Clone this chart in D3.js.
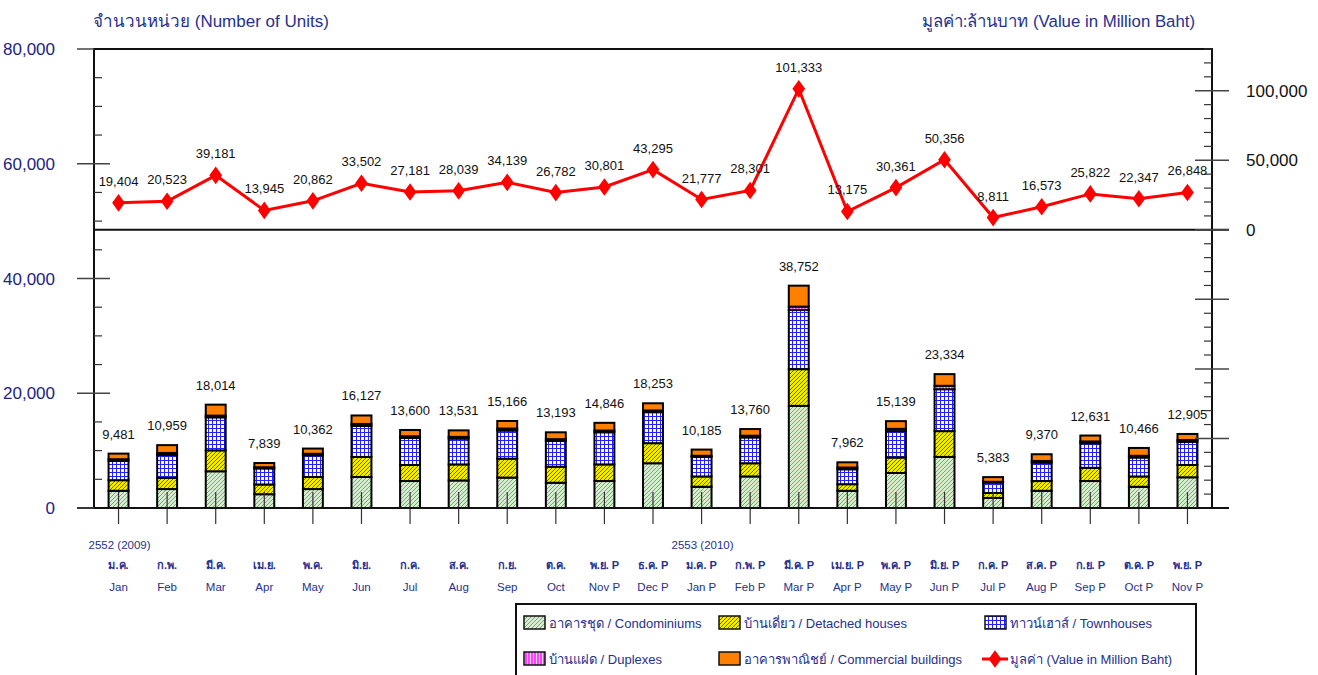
<!DOCTYPE html>
<html>
<head>
<meta charset="utf-8">
<script src="https://cdn.jsdelivr.net/npm/d3@7"></script>
<style>
  body { margin: 0; background: #fff; }
  svg { display: block; font-family: "Liberation Sans", Arial, sans-serif; }
</style>
</head>
<body>
<div id="chart"></div>
<script>
// month labels (Thai / English)
const monthsThai = ['ม.ค.', 'ก.พ.', 'มี.ค.', 'เม.ย.', 'พ.ค.', 'มิ.ย.', 'ก.ค.', 'ส.ค.', 'ก.ย.', 'ต.ค.', 'พ.ย. P', 'ธ.ค. P',
  'ม.ค. P', 'ก.พ. P', 'มี.ค. P', 'เม.ย. P', 'พ.ค. P', 'มิ.ย. P', 'ก.ค. P', 'ส.ค. P', 'ก.ย. P', 'ต.ค. P', 'พ.ย. P'];
const monthsEng = ['Jan', 'Feb', 'Mar', 'Apr', 'May', 'Jun', 'Jul', 'Aug', 'Sep', 'Oct', 'Nov P', 'Dec P',
  'Jan P', 'Feb P', 'Mar P', 'Apr P', 'May P', 'Jun P', 'Jul P', 'Aug P', 'Sep P', 'Oct P', 'Nov P'];
const yearLabels = [{ at: 0, text: '2552 (2009)' }, { at: 12, text: '2553 (2010)' }];

// units by type (stacked bars)
const condo      = [3000, 3300, 6400, 2400, 3300, 5400, 4700, 4800, 5300, 4400, 4700, 7800, 3700, 5500, 17800, 3000, 6100, 8900, 1750, 3000, 4700, 3700, 5350];
const detached   = [1850, 1950, 3650, 1700, 2100, 3500, 2800, 2800, 3300, 2800, 2900, 3500, 1800, 2300, 6400, 1150, 2700, 4500, 870, 1700, 2300, 1800, 2150];
const townhouse  = [3350, 4000, 5750, 2800, 3800, 5400, 4700, 4500, 4900, 4500, 5600, 5400, 3400, 4500, 10300, 2600, 4600, 7300, 1800, 3200, 4300, 3300, 4050];
const duplex     = [300, 350, 300, 200, 250, 350, 300, 300, 350, 300, 300, 300, 200, 300, 600, 300, 400, 600, 150, 300, 300, 300, 300];
const commercial = [981, 1359, 1914, 739, 912, 1477, 1100, 1131, 1316, 1193, 1346, 1253, 1085, 1160, 3652, 912, 1339, 2034, 813, 1170, 1031, 1366, 1055];
const totalUnits = [9481, 10959, 18014, 7839, 10362, 16127, 13600, 13531, 15166, 13193, 14846, 18253, 10185, 13760, 38752, 7962, 15139, 23334, 5383, 9370, 12631, 10466, 12905];

// value in million baht (line)
const valueMB = [19404, 20523, 39181, 13945, 20862, 33502, 27181, 28039, 34139, 26782, 30801, 43295, 21777, 28301, 101333, 13175, 30361, 50356, 8811, 16573, 25822, 22347, 26848];

const leftTicks = [0, 20000, 40000, 60000, 80000];
const rightLabelTicks = [0, 50000, 100000];

const seriesKeys = ['condo', 'detached', 'townhouse', 'duplex', 'commercial'];
const seriesData = { condo, detached, townhouse, duplex, commercial };

const navy = '#26308f';
const W = 1318, H = 675;
const plot = { left: 94, right: 1212, top: 49, bottom: 508 };

const svg = d3.select('#chart').append('svg').attr('width', W).attr('height', H);

// patterns
const defs = svg.append('defs');
function addPattern(id, w, h, bg, draw) {
  const p = defs.append('pattern').attr('id', id).attr('patternUnits', 'userSpaceOnUse')
    .attr('width', w).attr('height', h);
  p.append('rect').attr('width', w).attr('height', h).attr('fill', bg);
  draw(p);
}
addPattern('pat-condo', 4, 4, '#d6eecf', p => {
  p.append('path').attr('d', 'M0,4 L4,0 M-1,1 L1,-1 M3,5 L5,3').attr('stroke', '#5aa85a').attr('stroke-width', 0.9);
});
addPattern('pat-detached', 4, 4, '#f2ea00', p => {
  p.append('path').attr('d', 'M0,4 L4,0 M-1,1 L1,-1 M3,5 L5,3').attr('stroke', '#5c5a00').attr('stroke-width', 0.9);
});
addPattern('pat-townhouse', 4, 4, '#ffffff', p => {
  p.append('path').attr('d', 'M0,0.5 H4 M0.5,0 V4').attr('stroke', '#1f1fff').attr('stroke-width', 1);
});
addPattern('pat-duplex', 3, 3, '#ffd6ff', p => {
  p.append('path').attr('d', 'M1,0 V3').attr('stroke', '#ff00ff').attr('stroke-width', 1.4);
});
const fills = {
  condo: 'url(#pat-condo)',
  detached: 'url(#pat-detached)',
  townhouse: 'url(#pat-townhouse)',
  duplex: 'url(#pat-duplex)',
  commercial: '#ff7f00'
};

// scales
const x = d3.scaleBand().domain(d3.range(monthsEng.length)).range([plot.left, plot.right]).paddingInner(0.59).paddingOuter(0.3);
const cx = i => x(i) + x.bandwidth() / 2;
const yL = d3.scaleLinear().domain([0, 80000]).range([plot.bottom, plot.top]);
const yR = d3.scaleLinear().domain([-200000, 130000]).range([plot.bottom, plot.top]);

// stacked bars
const rows = totalUnits.map((t, i) => {
  const r = { i };
  seriesKeys.forEach(k => { r[k] = seriesData[k][i]; });
  return r;
});
const stacked = d3.stack().keys(seriesKeys)(rows);

const barG = svg.append('g');
stacked.forEach(layer => {
  barG.selectAll(null).data(layer).enter().append('rect')
    .attr('x', d => x(d.data.i))
    .attr('width', x.bandwidth())
    .attr('y', d => yL(d[1]))
    .attr('height', d => yL(d[0]) - yL(d[1]))
    .attr('fill', fills[layer.key])
    .attr('stroke', '#000')
    .attr('stroke-width', 2);
});

// category ticks through the bars
svg.append('g').selectAll('line').data(monthsEng).enter().append('line')
  .attr('x1', (d, i) => cx(i)).attr('x2', (d, i) => cx(i))
  .attr('y1', plot.bottom - 16).attr('y2', plot.bottom + 16)
  .attr('stroke', '#333').attr('stroke-width', 1.2);

// bar total labels
svg.append('g').selectAll('text').data(totalUnits).enter().append('text')
  .attr('x', (d, i) => cx(i))
  .attr('y', d => yL(d) - 15)
  .attr('text-anchor', 'middle')
  .attr('font-size', 13)
  .attr('fill', '#111')
  .text(d => d3.format(',')(d));

// frame
svg.append('rect')
  .attr('x', plot.left).attr('y', plot.top)
  .attr('width', plot.right - plot.left).attr('height', plot.bottom - plot.top)
  .attr('fill', 'none').attr('stroke', '#111').attr('stroke-width', 2);

// separator at right-axis zero
svg.append('line')
  .attr('x1', plot.left).attr('x2', plot.right + 17)
  .attr('y1', yR(0)).attr('y2', yR(0))
  .attr('stroke', '#111').attr('stroke-width', 2);

// bottom axis line extending beyond frame
svg.append('line')
  .attr('x1', plot.left - 17).attr('x2', plot.right + 17)
  .attr('y1', plot.bottom).attr('y2', plot.bottom)
  .attr('stroke', '#111').attr('stroke-width', 2);

// left axis ticks
const leftMinor = d3.range(0, 80001, 5000).filter(v => v % 20000 !== 0);
svg.append('g').selectAll('line').data(leftMinor).enter().append('line')
  .attr('x1', plot.left).attr('x2', plot.left + 8)
  .attr('y1', d => yL(d)).attr('y2', d => yL(d))
  .attr('stroke', '#333').attr('stroke-width', 1.2);
svg.append('g').selectAll('line').data(leftTicks).enter().append('line')
  .attr('x1', plot.left - 17).attr('x2', d => (d === 0 || d === 80000) ? plot.left : plot.left + 16)
  .attr('y1', d => yL(d)).attr('y2', d => yL(d))
  .attr('stroke', '#444').attr('stroke-width', 1.5);
svg.append('g').selectAll('text').data(leftTicks).enter().append('text')
  .attr('x', 55).attr('y', d => yL(d) + 6)
  .attr('text-anchor', 'end')
  .attr('font-size', 17)
  .attr('fill', '#1c2288')
  .text(d => d3.format(',')(d));

// right axis ticks
const rightMinor = d3.range(-200000, 130001, 10000).filter(v => v % 50000 !== 0);
const rightMajor = d3.range(-150000, 130001, 50000);
svg.append('g').selectAll('line').data(rightMinor).enter().append('line')
  .attr('x1', plot.right - 8).attr('x2', plot.right)
  .attr('y1', d => yR(d)).attr('y2', d => yR(d))
  .attr('stroke', '#333').attr('stroke-width', 1.2);
svg.append('g').selectAll('line').data(rightMajor).enter().append('line')
  .attr('x1', plot.right - 17).attr('x2', plot.right + 17)
  .attr('y1', d => yR(d)).attr('y2', d => yR(d))
  .attr('stroke', '#444').attr('stroke-width', 1.5);
svg.append('g').selectAll('text').data(rightLabelTicks).enter().append('text')
  .attr('x', 1246).attr('y', d => yR(d) + 6)
  .attr('font-size', 17)
  .attr('fill', '#111')
  .text(d => d3.format(',')(d));

// value line
const line = d3.line().x((d, i) => cx(i)).y(d => yR(d));
svg.append('path').datum(valueMB)
  .attr('d', line).attr('fill', 'none')
  .attr('stroke', '#ff0000').attr('stroke-width', 3);
const diamond = d3.symbol().type(d3.symbolDiamond).size(90);
svg.append('g').selectAll('path').data(valueMB).enter().append('path')
  .attr('d', diamond)
  .attr('transform', (d, i) => `translate(${cx(i)},${yR(d)}) scale(1.25,1)`)
  .attr('fill', '#ff0000');
svg.append('g').selectAll('text').data(valueMB).enter().append('text')
  .attr('x', (d, i) => cx(i))
  .attr('y', d => yR(d) - 17)
  .attr('text-anchor', 'middle')
  .attr('font-size', 13)
  .attr('fill', '#111')
  .text(d => d3.format(',')(d));

// titles
svg.append('text').attr('x', 93).attr('y', 27).attr('font-size', 17).attr('fill', navy)
  .text('จำนวนหน่วย (Number of Units)');
svg.append('text').attr('x', 1195).attr('y', 27).attr('font-size', 16.8).attr('fill', navy)
  .attr('text-anchor', 'end')
  .text('มูลค่า:ล้านบาท (Value in Million Baht)');

// month / year labels
svg.append('g').selectAll('text').data(yearLabels).enter().append('text')
  .attr('x', d => cx(d.at) - 30).attr('y', 549)
  .attr('font-size', 11.5).attr('fill', navy)
  .text(d => d.text);
svg.append('g').selectAll('text').data(monthsThai).enter().append('text')
  .attr('x', (d, i) => cx(i)).attr('y', 569)
  .attr('text-anchor', 'middle')
  .attr('font-size', 11).attr('font-weight', 'bold').attr('fill', navy)
  .text(d => d);
svg.append('g').selectAll('text').data(monthsEng).enter().append('text')
  .attr('x', (d, i) => cx(i)).attr('y', 591)
  .attr('text-anchor', 'middle')
  .attr('font-size', 11.5).attr('fill', navy)
  .text(d => d);

// legend
const legend = svg.append('g');
legend.append('rect').attr('x', 516).attr('y', 604).attr('width', 680).attr('height', 90)
  .attr('fill', '#fff').attr('stroke', '#111').attr('stroke-width', 2);
const legendItems = [
  { key: 'condo', label: 'อาคารชุด / Condominiums', x: 524, y: 623 },
  { key: 'detached', label: 'บ้านเดี่ยว / Detached houses', x: 719, y: 623 },
  { key: 'townhouse', label: 'ทาวน์เฮาส์ / Townhouses', x: 985, y: 623 },
  { key: 'duplex', label: 'บ้านแฝด / Duplexes', x: 524, y: 659 },
  { key: 'commercial', label: 'อาคารพาณิชย์ / Commercial buildings', x: 719, y: 659 }
];
legendItems.forEach(it => {
  legend.append('rect').attr('x', it.x).attr('y', it.y - 7).attr('width', 21).attr('height', 13)
    .attr('fill', fills[it.key]).attr('stroke', '#111').attr('stroke-width', 1.5);
  legend.append('text').attr('x', it.x + 25).attr('y', it.y + 5)
    .attr('font-size', 13).attr('fill', navy).text(it.label);
});
legend.append('line').attr('x1', 982).attr('x2', 1008).attr('y1', 659).attr('y2', 659)
  .attr('stroke', '#ff0000').attr('stroke-width', 3);
legend.append('path').attr('d', diamond)
  .attr('transform', 'translate(995,659) scale(1.25,1)').attr('fill', '#ff0000');
legend.append('text').attr('x', 1010).attr('y', 664)
  .attr('font-size', 13).attr('fill', navy).text('มูลค่า (Value in Million Baht)');
</script>
</body>
</html>
